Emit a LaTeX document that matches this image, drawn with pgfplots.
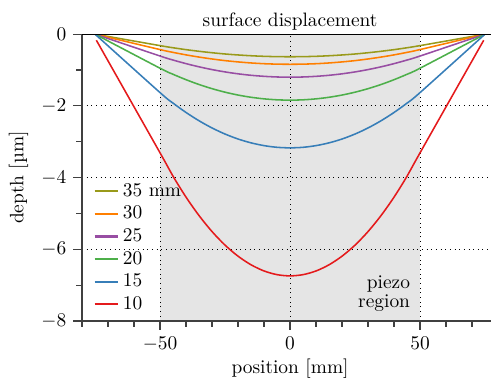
\documentclass[border=0pt]{standalone}
\usepackage{fontspec}
\usepackage{pgfplots}
\pgfplotsset{compat=1.18}
\usetikzlibrary{calc}
\definecolor{c35}{HTML}{999A1A}
\definecolor{c30}{HTML}{FF7F00}
\definecolor{c25}{HTML}{984EA3}
\definecolor{c20}{HTML}{4DAF4A}
\definecolor{c15}{HTML}{377EB8}
\definecolor{c10}{HTML}{E41A1C}
\definecolor{piezo}{HTML}{E5E5E5}
\begin{document}
\begin{tikzpicture}
\begin{axis}[
  set layers,
  scale only axis,
  width=214.4pt, height=147.9pt,
  xmin=-80, xmax=80, ymin=-8, ymax=0,
  enlargelimits=false,
  axis x line*=bottom, axis y line*=left,
  axis line style={-, draw=black!75, line width=0.6pt},
  tick align=outside,
  tick style={draw=black!75, line width=0.6pt},
  major tick length=4.6pt, minor tick length=2.9pt,
  xtick={-50,0,50},
  minor xtick={-80,-70,-60,-40,-30,-20,-10,10,20,30,40,60,70,80},
  ytick={-8,-6,-4,-2,0},
  minor ytick={-7,-5,-3,-1},
  grid=major,
  major grid style={dotted, black, line width=0.5pt},
  title={surface displacement},
  title style={at={(0.5,1)}, anchor=base, yshift=-1.9pt},
  xlabel={position [mm]},
  xlabel style={yshift=2.6pt},
  ylabel={depth [µm]},
  legend style={draw=none, fill=none, at={(0.013,0.002)}, anchor=south west,
    row sep=-0.5pt, font=\normalsize},
  legend cell align=left,
  legend image code/.code={\draw[#1, line width=1.1pt] (0pt,0pt) -- (12pt,0pt);},
]
\addplot[c35, line width=0.8pt, smooth] coordinates {
(-75,0) (-50,-0.320) (-45,-0.379) (-40,-0.432) (-35,-0.478) (-30,-0.518) (-25,-0.553) (-20,-0.580) (-15,-0.602) (-10,-0.618) (-5,-0.627) (0,-0.630)
(5,-0.627) (10,-0.618) (15,-0.602) (20,-0.580) (25,-0.553) (30,-0.518) (35,-0.478) (40,-0.432) (45,-0.379) (50,-0.320) (75,0)};
\addlegendentry{35 mm}
\addplot[c30, line width=0.8pt, smooth] coordinates {
(-75,0) (-50,-0.430) (-45,-0.508) (-40,-0.578) (-35,-0.639) (-30,-0.692) (-25,-0.738) (-20,-0.774) (-15,-0.803) (-10,-0.824) (-5,-0.836) (0,-0.840)
(5,-0.836) (10,-0.824) (15,-0.803) (20,-0.774) (25,-0.738) (30,-0.692) (35,-0.639) (40,-0.578) (45,-0.508) (50,-0.430) (75,0)};
\addlegendentry{30}
\addplot[c25, line width=0.8pt, smooth] coordinates {
(-75,0) (-50,-0.610) (-45,-0.722) (-40,-0.822) (-35,-0.911) (-30,-0.988) (-25,-1.053) (-20,-1.106) (-15,-1.147) (-10,-1.176) (-5,-1.194) (0,-1.200)
(5,-1.194) (10,-1.176) (15,-1.147) (20,-1.106) (25,-1.053) (30,-0.988) (35,-0.911) (40,-0.822) (45,-0.722) (50,-0.610) (75,0)};
\addlegendentry{25}
\addplot[c20, line width=0.8pt, smooth] coordinates {
(-75,0) (-50,-0.950) (-45,-1.119) (-40,-1.270) (-35,-1.404) (-30,-1.520) (-25,-1.618) (-20,-1.698) (-15,-1.760) (-10,-1.804) (-5,-1.831) (0,-1.840)
(5,-1.831) (10,-1.804) (15,-1.760) (20,-1.698) (25,-1.618) (30,-1.520) (35,-1.404) (40,-1.270) (45,-1.119) (50,-0.950) (75,0)};
\addlegendentry{20}
\addplot[c15, line width=0.8pt, smooth] coordinates {
(-75,0) (-50,-1.630) (-45,-1.923) (-40,-2.184) (-35,-2.415) (-30,-2.616) (-25,-2.785) (-20,-2.924) (-15,-3.031) (-10,-3.108) (-5,-3.155) (0,-3.170)
(5,-3.155) (10,-3.108) (15,-3.031) (20,-2.924) (25,-2.785) (30,-2.616) (35,-2.415) (40,-2.184) (45,-1.923) (50,-1.630) (75,0)};
\addlegendentry{15}
\addplot[c10, line width=0.8pt, smooth] coordinates {
(-74.5,-0.17) (-50,-3.310) (-45,-3.962) (-40,-4.545) (-35,-5.059) (-30,-5.505) (-25,-5.883) (-20,-6.191) (-15,-6.431) (-10,-6.603) (-5,-6.706) (0,-6.740)
(5,-6.706) (10,-6.603) (15,-6.431) (20,-6.191) (25,-5.883) (30,-5.505) (35,-5.059) (40,-4.545) (45,-3.962) (50,-3.310) (74.5,-0.17)};
\addlegendentry{10}

\addplot[draw=none, fill=piezo, on layer=axis background, forget plot]
  coordinates {(-50,-8) (50,-8) (50,0) (-50,0)} -- cycle;

\draw[black, line width=0.7pt] (rel axis cs:0,1) -- (rel axis cs:1,1);
\node[align=right, anchor=base east, inner sep=0pt] at (axis cs:46.3,-7.63) {piezo\\[-2.3pt]region};
\coordinate (sw) at (rel axis cs:0,0);
\end{axis}
\pgfresetboundingbox
\path[use as bounding box] ($(sw)+(-42.3pt,-28.9pt)$) rectangle ($(sw)+(210.8pt,165.5pt)$);
\end{tikzpicture}
\end{document}
